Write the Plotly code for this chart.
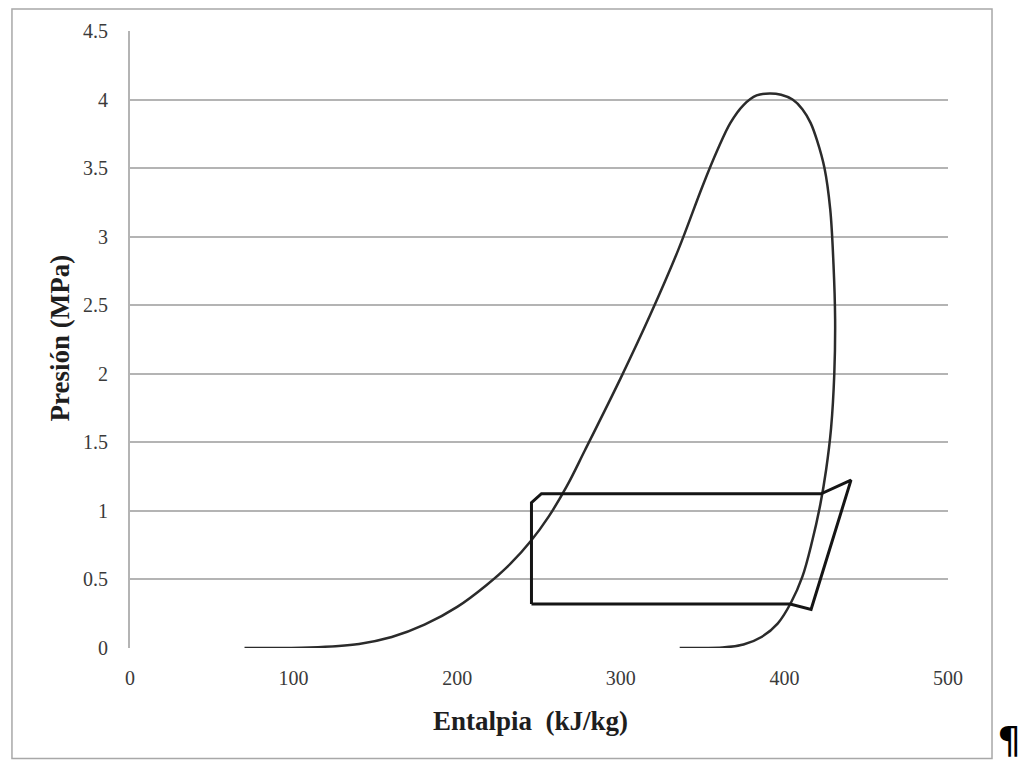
import plotly.graph_objects as go

# Saturation dome (enthalpy kJ/kg, pressure MPa)
dome_h = [70, 110, 140, 160, 180, 200, 218, 233, 245, 256, 267, 278, 300, 318,
          335, 350, 359, 367, 375, 383, 391, 398, 405, 411, 416, 420, 424.5, 428, 430, 431,
          430.5, 428.5, 425.5, 422, 417, 411, 404, 396, 386, 375, 362, 350, 336]
dome_p = [0.0, 0.004, 0.03, 0.08, 0.17, 0.3, 0.46, 0.62, 0.78, 0.96, 1.18, 1.44, 1.97, 2.43,
          2.9, 3.37, 3.63, 3.83, 3.96, 4.03, 4.045, 4.035, 4.0, 3.93, 3.83, 3.7, 3.5, 3.2, 2.8, 2.4,
          2.0, 1.6, 1.3, 1.05, 0.78, 0.52, 0.33, 0.18, 0.08, 0.025, 0.003, 0.0, 0.0]

# Refrigeration cycle
cycle_h = [245.4, 245.4, 251.5, 422.4, 440.7, 416.3, 403.5, 245.4]
cycle_p = [0.32, 1.06, 1.125, 1.125, 1.224, 0.281, 0.32, 0.32]

x_ticks = [0, 100, 200, 300, 400, 500]
y_ticks = [0, 0.5, 1, 1.5, 2, 2.5, 3, 3.5, 4, 4.5]
y_tick_text = ["0", "0.5", "1", "1.5", "2", "2.5", "3", "3.5", "4", "4.5"]

fig = go.Figure()
fig.add_trace(go.Scatter(x=dome_h, y=dome_p, mode="lines",
                         line=dict(color="#2b2b2b", width=2.5, shape="spline", smoothing=1.0),
                         showlegend=False, hoverinfo="skip"))
fig.add_trace(go.Scatter(x=cycle_h, y=cycle_p, mode="lines",
                         line=dict(color="#151515", width=3),
                         showlegend=False, hoverinfo="skip"))

serif = "Liberation Serif, Times New Roman, serif"
# page body adds an 8px offset, so the figure is 8px smaller and margins shifted
fig.update_layout(
    width=1022, height=757,
    margin=dict(l=122, r=82, t=20, b=117),
    paper_bgcolor="white", plot_bgcolor="white",
    showlegend=False,
    xaxis=dict(range=[0, 500], tickvals=x_ticks, showgrid=False, zeroline=False,
               showline=False, ticks="", ticklabelstandoff=16,
               tickfont=dict(family=serif, size=20, color="#3a3a3a")),
    yaxis=dict(range=[0, 4.5], tickvals=y_ticks, ticktext=y_tick_text,
               showgrid=True, gridcolor="#b4b4b4", gridwidth=2, zeroline=False,
               showline=True, linecolor="#b4b4b4", linewidth=2, ticks="",
               ticklabelstandoff=16,
               tickfont=dict(family=serif, size=20, color="#3a3a3a")),
)

# Outer chart border
fig.add_shape(type="rect", xref="paper", yref="paper",
              x0=-0.1443, x1=1.0538, y0=-0.179, y1=1.0355,
              line=dict(color="#a8a8a8", width=1.5), layer="below")

fig.add_annotation(text="<b>Entalpia  (kJ/kg)</b>", xref="paper", yref="paper",
                   x=(530 - 130) / 818, y=-(721 - 648) / 620, showarrow=False,
                   xanchor="center", yanchor="middle",
                   font=dict(family=serif, size=27, color="#1e1e1e"))
fig.add_annotation(text="<b>Presión (MPa)</b>", xref="paper", yref="paper",
                   x=-(130 - 60) / 818, y=(648 - 337) / 620, showarrow=False,
                   textangle=-90, xanchor="center", yanchor="middle",
                   font=dict(family=serif, size=27, color="#1e1e1e"))
fig.add_annotation(text="¶", xref="paper", yref="paper",
                   x=(1009 - 130) / 818, y=-(740 - 648) / 620, showarrow=False,
                   xanchor="center", yanchor="middle",
                   font=dict(family="DejaVu Sans, sans-serif", size=38, color="#000000"))

fig.write_html("out.html")
